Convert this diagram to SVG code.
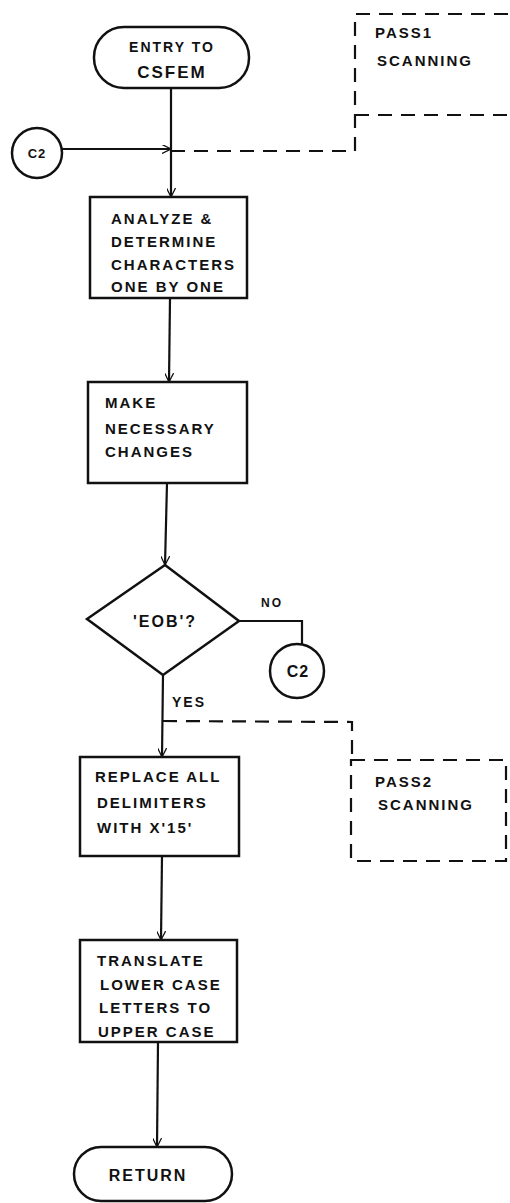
<svg xmlns="http://www.w3.org/2000/svg" width="510" height="1203" viewBox="0 0 510 1203">
<defs>
<style>
.shape{fill:none;stroke:#111;stroke-width:2.5}
.line{fill:none;stroke:#111;stroke-width:2.2}
.dash{fill:none;stroke:#111;stroke-width:2.2;stroke-dasharray:14 9}
text{font-family:"Liberation Sans",Arial,sans-serif;font-size:15px;fill:#111;letter-spacing:2px;font-weight:bold}
.c{text-anchor:middle}
</style>
<marker id="arr" viewBox="0 0 10 10" refX="10" refY="5" markerWidth="9" markerHeight="9" orient="auto" markerUnits="userSpaceOnUse">
<path d="M0,0 L10,5 L0,10" fill="none" stroke="#111" stroke-width="1.4"/>
</marker>
</defs>
<rect width="510" height="1203" fill="#fff"/>
<g id="connectors">
<line class="line" x1="171" y1="88" x2="171" y2="197" marker-end="url(#arr)"/>
<line class="line" x1="62" y1="149" x2="171" y2="149" marker-end="url(#arr)"/>
<polyline class="dash" points="171,151 355,151 355,14 510,14"/>
<line class="dash" x1="355" y1="115" x2="510" y2="115"/>
<line class="line" x1="170" y1="298" x2="169" y2="382" marker-end="url(#arr)"/>
<line class="line" x1="167" y1="483" x2="165" y2="565" marker-end="url(#arr)"/>
<polyline class="line" points="239,621 302,621 302,645"/>
<line class="line" x1="163" y1="675" x2="162" y2="757" marker-end="url(#arr)"/>
<polyline class="dash" points="163,721 352,722 352,760"/>
<rect class="dash" x="351" y="760" width="155" height="101"/>
<line class="line" x1="162" y1="856" x2="161" y2="940" marker-end="url(#arr)"/>
<line class="line" x1="158" y1="1042" x2="157" y2="1147" marker-end="url(#arr)"/>
</g>
<g id="entry">
<rect class="shape" x="94" y="27" width="155" height="61" rx="30" ry="30"/>
<text class="c" x="172" y="52" style="font-size:14px">ENTRY TO</text>
<text class="c" x="172" y="78" style="font-size:17px">CSFEM</text>
</g>
<g id="c2-in">
<circle class="shape" cx="37" cy="153" r="25"/>
<text class="c" x="37" y="158" style="font-size:13px;letter-spacing:1px">C2</text>
</g>
<g id="pass1">
<text x="375" y="38">PASS1</text>
<text x="377" y="66">SCANNING</text>
</g>
<g id="analyze">
<rect class="shape" x="90" y="197" width="157" height="101"/>
<text x="111" y="224">ANALYZE &amp;</text>
<text x="111" y="247">DETERMINE</text>
<text x="111" y="270">CHARACTERS</text>
<text x="111" y="292">ONE BY ONE</text>
</g>
<g id="make">
<rect class="shape" x="88" y="382" width="159" height="101"/>
<text x="105" y="408">MAKE</text>
<text x="105" y="434">NECESSARY</text>
<text x="105" y="457">CHANGES</text>
</g>
<g id="eob">
<polygon class="shape" points="165,565 239,621 163,675 87,619"/>
<text class="c" x="165" y="627" style="font-size:16px">'EOB'?</text>
<text x="261" y="607" style="font-size:12px">NO</text>
<text x="172" y="707" style="font-size:14px">YES</text>
</g>
<g id="c2-out">
<circle class="shape" cx="297" cy="671" r="27"/>
<text class="c" x="298" y="677" style="font-size:16px;letter-spacing:1px">C2</text>
</g>
<g id="replace">
<rect class="shape" x="80" y="757" width="159" height="99"/>
<text x="95" y="782">REPLACE ALL</text>
<text x="97" y="808">DELIMITERS</text>
<text x="97" y="833">WITH X'15'</text>
</g>
<g id="pass2">
<text x="375" y="787">PASS2</text>
<text x="378" y="810">SCANNING</text>
</g>
<g id="translate">
<rect class="shape" x="80" y="940" width="157" height="102"/>
<text x="97" y="966">TRANSLATE</text>
<text x="100" y="990">LOWER CASE</text>
<text x="99" y="1013">LETTERS TO</text>
<text x="98" y="1037">UPPER CASE</text>
</g>
<g id="return">
<rect class="shape" x="74" y="1147" width="158" height="54" rx="27" ry="27"/>
<text class="c" x="148" y="1181" style="font-size:16px">RETURN</text>
</g>
</svg>
